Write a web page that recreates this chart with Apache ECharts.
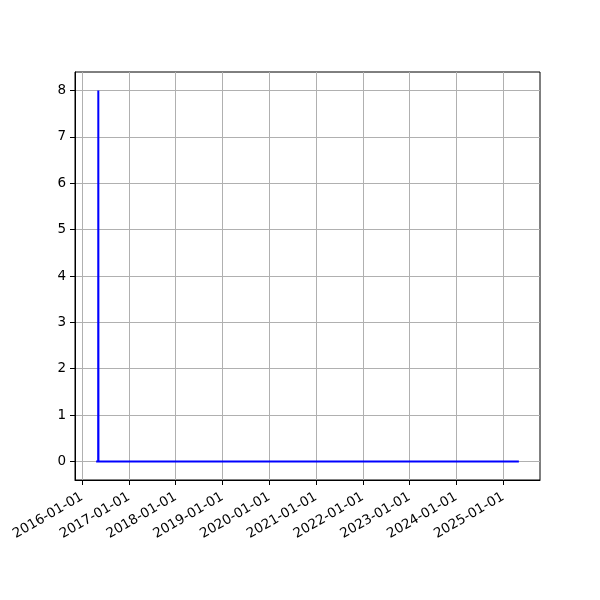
<!DOCTYPE html>
<html><head><meta charset="utf-8">
<script src="https://cdn.jsdelivr.net/npm/echarts@6/dist/echarts.min.js"></script>
<style>html,body{margin:0;padding:0;background:#fff}#c{width:600px;height:600px}</style>
</head><body><div id="c"></div>
<script>
// Data (sparse: value is 0 everywhere except a single-day spike)
const dates = ['2016-04-20', '2016-05-06', '2016-05-07', '2016-05-08', '2025-05-04'];
const values = [0, 0, 8, 0, 0];
const xTickLabels = ['2016-01-01','2017-01-01','2018-01-01','2019-01-01','2020-01-01','2021-01-01','2022-01-01','2023-01-01','2024-01-01','2025-01-01'];
const yTicks = [0, 1, 2, 3, 4, 5, 6, 7, 8];

const ts = s => { const [y,m,d] = s.split('-').map(Number); return Date.UTC(y, m-1, d); };
const xs = dates.map(ts);
const xmin0 = Math.min(...xs), xmax0 = Math.max(...xs);
const xpad = 0.05 * (xmax0 - xmin0);
const ymin0 = Math.min(...values), ymax0 = Math.max(...values);
const ypad = 0.05 * (ymax0 - ymin0);
const xTickVals = xTickLabels.map(ts);
const fmtDate = v => { const d = new Date(v); return d.getUTCFullYear() + '-' + String(d.getUTCMonth()+1).padStart(2,'0') + '-' + String(d.getUTCDate()).padStart(2,'0'); };

const chart = echarts.init(document.getElementById('c'), null, {renderer: 'canvas'});
const font = 'DejaVu Sans';
chart.setOption({
  animation: false,
  backgroundColor: '#fff',
  grid: {left: 75, right: 60, top: 72, bottom: 120, show: true, borderColor: '#000', borderWidth: 1, containLabel: false},
  xAxis: {
    type: 'value',
    min: xmin0 - xpad, max: xmax0 + xpad,
    axisLine: {show: true, onZero: false, lineStyle: {color: '#000', width: 1}},
    axisTick: {show: true, inside: false, length: 5, lineStyle: {color: '#000', width: 1}, customValues: xTickVals},
    axisLabel: {customValues: xTickVals, rotate: 30, margin: 16, color: '#000', fontFamily: font, fontSize: 13.5, formatter: fmtDate},
    splitLine: {show: true, lineStyle: {color: '#b0b0b0', width: 1}}
  },
  yAxis: {
    type: 'value',
    min: ymin0 - ypad, max: ymax0 + ypad,
    axisLine: {show: true, lineStyle: {color: '#000', width: 1}},
    axisTick: {show: true, inside: false, length: 5, lineStyle: {color: '#000', width: 1}, customValues: yTicks},
    axisLabel: {customValues: yTicks, margin: 9, color: '#000', fontFamily: font, fontSize: 13.5, formatter: v => String(Math.round(v))},
    splitLine: {show: true, lineStyle: {color: '#b0b0b0', width: 1}}
  },
  series: [{
    type: 'line',
    data: xs.map((x, i) => [x, values[i]]),
    showSymbol: false,
    symbol: 'none',
    lineStyle: {color: '#0000ff', width: 2},
    itemStyle: {color: '#0000ff'}
  }]
});
</script></body></html>
